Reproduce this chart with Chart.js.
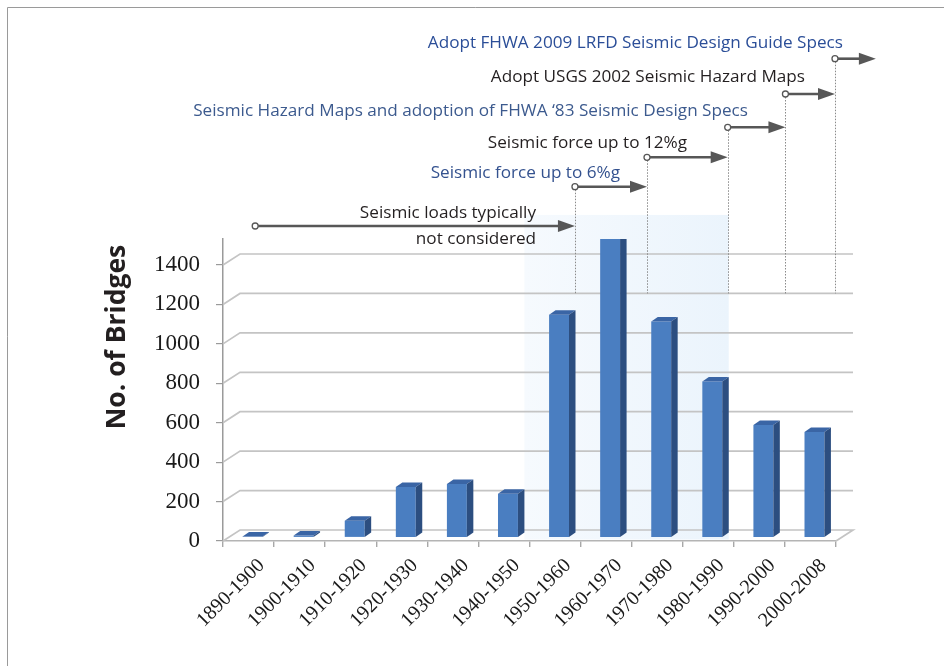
<!DOCTYPE html>
<html>
<head>
<meta charset="utf-8">
<script src="https://cdn.jsdelivr.net/npm/chart.js@4"></script>
<style>
html,body{margin:0;padding:0;background:#fff;}
#wrap{position:relative;width:944px;height:666px;}
</style>
</head>
<body>
<div id="wrap"><canvas id="c" width="944" height="666"></canvas></div>
<script>
// ---------- DATA ----------
const categories = ['1890-1900','1900-1910','1910-1920','1920-1930','1930-1940','1940-1950',
                    '1950-1960','1960-1970','1970-1980','1980-1990','1990-2000','2000-2008'];
const bridgeCounts = [5, 10, 85, 256, 272, 222, 1130, 1560, 1096, 791, 571, 535];
const yAxisMax = 1532;
const yTickStep = 200;
const yAxisTitle = 'No. of Bridges';

// timeline events (bottom to top); each spans eventYears[i] -> eventYears[i+1]
const eventTexts = [
  ['Seismic loads typically', 'not considered'],
  ['Seismic force up to 6%g'],
  ['Seismic force up to 12%g'],
  ['Seismic Hazard Maps and adoption of FHWA \u201883 Seismic Design Specs'],
  ['Adopt USGS 2002 Seismic Hazard Maps'],
  ['Adopt FHWA 2009 LRFD Seismic Design Guide Specs']
];
const eventYears = [1896.3, 1958.9, 1973.0, 1988.8, 2000.1, 2009.8, 2017.8];
const highlightYears = [1949, 1989];
const highlightTop = 1654;
const dropLineTo = 1200;

// ---------- LAYOUT / STYLE ----------
const eventArrowY = [226, 186.7, 157.3, 127.3, 94, 58.7];
const eventTextRight = [536, 620, 687, 748, 805, 843];
const eventTextY = [[212.7, 239.3], [173], [142.7], [110.7], [77], [43]];
const eventColors = ['#231f20', '#34528f', '#231f20', '#3c5a8e', '#231f20', '#2b4e98'];
const BACK_DX = 17, BACK_DY = -11;
const BAR_DX = 4, BAR_DY = -3.5;
const SIDE_DX = 6.5, SIDE_DY = -4.5;

function yearToPixel(xs, year) {
  return xs.getPixelForValue((year - 1890) / 10 - 0.5);
}

const threeD = {
  id: 'threeD',
  beforeDatasetsDraw(chart) {
    const {ctx, chartArea: a, scales: {x, y}} = chart;
    // highlight band
    const hx0 = yearToPixel(x, highlightYears[0]);
    const hx1 = yearToPixel(x, highlightYears[1]);
    const hy0 = y.getPixelForValue(highlightTop);
    const g = ctx.createLinearGradient(hx0, 0, hx1, 0);
    g.addColorStop(0, 'rgba(246,250,254,1)');
    g.addColorStop(1, 'rgba(235,244,252,1)');
    ctx.save();
    ctx.fillStyle = g;
    ctx.fillRect(hx0, hy0, hx1 - hx0, a.bottom - 1.5 - hy0);
    ctx.restore();

    // 3D gridlines
    ctx.save();
    ctx.strokeStyle = '#c4c4c4';
    ctx.lineWidth = 1.7;
    y.ticks.forEach(t => {
      const yp = y.getPixelForValue(t.value);
      ctx.beginPath();
      ctx.moveTo(a.left, yp);
      ctx.lineTo(a.left + BACK_DX, yp + BACK_DY);
      ctx.lineTo(a.right + BACK_DX, yp + BACK_DY);
      if (t.value === 0) ctx.lineTo(a.right, yp);
      ctx.stroke();
    });
    ctx.restore();

    // bar offset and clip
    ctx.save();
    ctx.beginPath();
    ctx.rect(a.left, a.top, a.right - a.left + 40, a.bottom - a.top + 10);
    ctx.clip();
    ctx.translate(BAR_DX, BAR_DY);
  },
  afterDatasetsDraw(chart) {
    const {ctx} = chart;
    const meta = chart.getDatasetMeta(0);
    meta.data.forEach(b => {
      const {x, y, base, width} = b.getProps(['x', 'y', 'base', 'width'], true);
      const l = x - width / 2, r = x + width / 2;
      ctx.fillStyle = '#3a65a5';
      ctx.beginPath();
      ctx.moveTo(l, y);
      ctx.lineTo(l + SIDE_DX, y + SIDE_DY);
      ctx.lineTo(r + SIDE_DX, y + SIDE_DY);
      ctx.lineTo(r, y);
      ctx.closePath();
      ctx.fill();
      ctx.fillStyle = '#2c4e80';
      ctx.beginPath();
      ctx.moveTo(r, y);
      ctx.lineTo(r + SIDE_DX, y + SIDE_DY);
      ctx.lineTo(r + SIDE_DX, base + SIDE_DY);
      ctx.lineTo(r, base);
      ctx.closePath();
      ctx.fill();
    });
    ctx.restore();
  }
};

function drawArrow(ctx, x0, x1, yy) {
  ctx.save();
  ctx.strokeStyle = '#575757';
  ctx.fillStyle = '#575757';
  ctx.lineWidth = 2.6;
  ctx.beginPath();
  ctx.moveTo(x0 + 3, yy);
  ctx.lineTo(x1 - 14, yy);
  ctx.stroke();
  ctx.beginPath();
  ctx.moveTo(x1, yy);
  ctx.lineTo(x1 - 17, yy - 6);
  ctx.lineTo(x1 - 17, yy + 6);
  ctx.closePath();
  ctx.fill();
  ctx.beginPath();
  ctx.arc(x0, yy, 3, 0, Math.PI * 2);
  ctx.fillStyle = '#fff';
  ctx.fill();
  ctx.lineWidth = 1.3;
  ctx.stroke();
  ctx.restore();
}

const annot = {
  id: 'annot',
  afterDraw(chart) {
    const {ctx, scales: {x, y}} = chart;
    const dropY = y.getPixelForValue(dropLineTo) + BACK_DY;
    // dotted drop lines
    ctx.save();
    ctx.strokeStyle = '#8a8a8a';
    ctx.lineWidth = 1;
    ctx.setLineDash([1.5, 1.5]);
    for (let i = 1; i < eventTexts.length; i++) {
      const xp = Math.round(yearToPixel(x, eventYears[i])) + 0.5;
      ctx.beginPath();
      ctx.moveTo(xp, eventArrowY[i] + 3);
      ctx.lineTo(xp, dropY);
      ctx.stroke();
    }
    ctx.restore();
    // arrows
    for (let i = 0; i < eventTexts.length; i++) {
      drawArrow(ctx, yearToPixel(x, eventYears[i]), yearToPixel(x, eventYears[i + 1]), eventArrowY[i]);
    }
    // texts
    ctx.save();
    ctx.font = '17.15px "Open Sans"';
    ctx.textAlign = 'right';
    ctx.textBaseline = 'middle';
    eventTexts.forEach((lines, i) => {
      ctx.fillStyle = eventColors[i];
      lines.forEach((s, j) => ctx.fillText(s, eventTextRight[i], eventTextY[i][j]));
    });
    ctx.restore();
    // y axis title
    ctx.save();
    ctx.translate(117, 337);
    ctx.rotate(-Math.PI / 2);
    ctx.font = 'bold 26.5px "Open Sans"';
    ctx.fillStyle = '#231f20';
    ctx.textAlign = 'center';
    ctx.textBaseline = 'middle';
    ctx.fillText(yAxisTitle, 0, 0);
    ctx.restore();
    // frame
    ctx.save();
    ctx.strokeStyle = '#9a9a9a';
    ctx.lineWidth = 1;
    ctx.beginPath();
    ctx.moveTo(7.5, 666);
    ctx.lineTo(7.5, 7.5);
    ctx.lineTo(944, 7.5);
    ctx.stroke();
    ctx.restore();
  }
};

new Chart(document.getElementById('c'), {
  type: 'bar',
  data: {
    labels: categories,
    datasets: [{
      data: bridgeCounts,
      backgroundColor: '#4a7ec1',
      borderWidth: 0,
      barPercentage: 0.39,
      categoryPercentage: 1,
      clip: false
    }]
  },
  options: {
    responsive: false,
    animation: false,
    devicePixelRatio: 1,
    layout: {padding: {left: 0, top: 239, right: 108, bottom: 0}},
    plugins: {legend: {display: false}, tooltip: {enabled: false}},
    scales: {
      x: {
        grid: {display: true, drawOnChartArea: false, tickLength: 6, color: '#a8a8a8', lineWidth: 1.4},
        border: {display: true, color: '#b4b4b4', width: 1.6},
        ticks: {font: {family: 'Liberation Serif', size: 20}, color: '#1a1a1a',
                minRotation: 45, maxRotation: 45, padding: 7, labelOffset: 13, autoSkip: false},
        afterFit(s) { s.height = 125; }
      },
      y: {
        min: 0, max: yAxisMax,
        ticks: {stepSize: yTickStep, includeBounds: false, font: {family: 'Liberation Serif', size: 23},
                color: '#1a1a1a', padding: 16, callback: v => String(v)},
        grid: {drawOnChartArea: false, tickLength: 7, color: '#9a9a9a', lineWidth: 1.2},
        border: {display: true, color: '#9a9a9a', width: 1.5},
        afterFit(s) { s.width = 223; }
      }
    }
  },
  plugins: [threeD, annot]
});
</script>
</body>
</html>
